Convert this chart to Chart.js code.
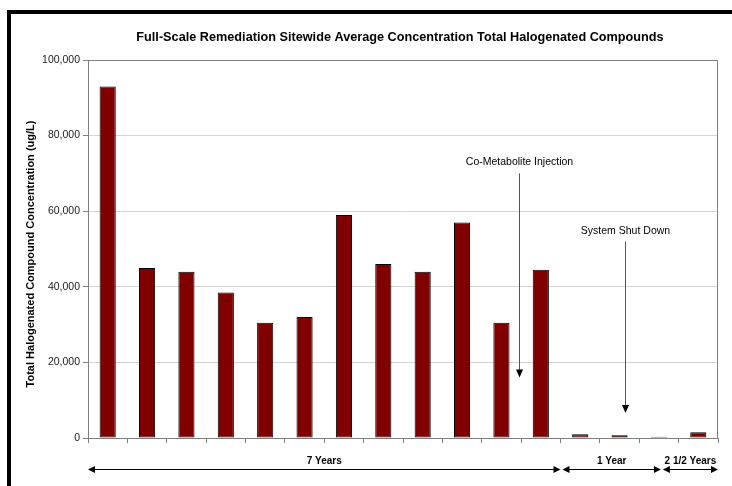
<!DOCTYPE html>
<html lang="en">
<head>
  <meta charset="UTF-8" />
  <title>Sitewide Average Concentration</title>
  <script src="https://cdn.jsdelivr.net/npm/chart.js"></script>
  <style>
    body { margin: 0; background: #fff; }
    #wrap { position: relative; width: 732px; height: 486px; }
  </style>
</head>
<body>
  <div id="wrap"><canvas id="chart" width="732" height="486"></canvas></div>
  <script>
    // sampling events (no labels shown on the axis)
    const events = ['1', '2', '3', '4', '5', '6', '7', '8', '9', '10', '11', '12', '13', '14', '15', '16'];
    // total halogenated compounds, ug/L
    const concentration = [93000, 45000, 44000, 38500, 30500, 32000, 59000, 46000, 44000, 57000, 30500, 44500, 1000, 700, 300, 1500];
    const yTicks = [0, 20000, 40000, 60000, 80000, 100000];

    const titleText = 'Full-Scale Remediation Sitewide Average Concentration Total Halogenated Compounds';
    const yTitleText = 'Total Halogenated Compound Concentration (ug/L)';

    // notes: label, x position (category index), label y, arrow from/to (data units)
    const noteLabels = ['Co-Metabolite Injection', 'System Shut Down'];
    const noteX = [10.45, 13.15];
    const noteTextY = [73000, 54800];
    const noteFrom = [70000, 52000];
    const noteTo = [16000, 6600];

    // periods along the bottom (category index range)
    const periodLabels = ['7 Years', '1 Year', '2 1/2 Years'];
    const periodStart = [-0.5, 11.55, 14.1];
    const periodEnd = [11.5, 14.05, 15.5];

    const FONT = "'Liberation Sans', Arial, sans-serif";

    function arrowHead(ctx, x, y, dir, len, half) {
      // dir: 'down', 'left', 'right'
      ctx.beginPath();
      if (dir === 'down') {
        ctx.moveTo(x, y); ctx.lineTo(x - half, y - len); ctx.lineTo(x + half, y - len);
      } else if (dir === 'left') {
        ctx.moveTo(x, y); ctx.lineTo(x + len, y - half); ctx.lineTo(x + len, y + half);
      } else {
        ctx.moveTo(x, y); ctx.lineTo(x - len, y - half); ctx.lineTo(x - len, y + half);
      }
      ctx.closePath();
      ctx.fill();
    }

    const extras = {
      id: 'extras',
      beforeDatasetsDraw(chart) {
        const { ctx, chartArea: a } = chart;
        ctx.save();
        ctx.strokeStyle = '#808080';
        ctx.lineWidth = 1;
        ctx.strokeRect(a.left + 0.5, a.top + 0.5, a.right - a.left - 1, a.bottom - a.top);
        ctx.restore();
      },
      afterDraw(chart) {
        const { ctx, chartArea: a } = chart;
        const xs = chart.scales.x, ys = chart.scales.y;
        ctx.save();

        // frame
        ctx.fillStyle = '#000';
        ctx.fillRect(7, 10, 732 - 7, 4);
        ctx.fillRect(7, 10, 4, 486 - 10);

        // title
        ctx.fillStyle = '#000';
        ctx.font = 'bold 12.7px ' + FONT;
        ctx.textAlign = 'center';
        ctx.textBaseline = 'middle';
        ctx.fillText(titleText, (a.left + a.right) / 2 - 3, 37);

        // y title
        ctx.save();
        ctx.translate(31, 254);
        ctx.rotate(-Math.PI / 2);
        ctx.font = 'bold 11px ' + FONT;
        ctx.fillText(yTitleText, 0, 0);
        ctx.restore();

        // notes with arrows
        ctx.font = '10.5px ' + FONT;
        noteLabels.forEach((t, i) => {
          const x = Math.round(xs.getPixelForValue(noteX[i])) + 0.5;
          ctx.fillStyle = '#000';
          ctx.fillText(t, x, ys.getPixelForValue(noteTextY[i]));
          const y0 = ys.getPixelForValue(noteFrom[i]);
          const y1 = ys.getPixelForValue(noteTo[i]);
          ctx.strokeStyle = '#555';
          ctx.lineWidth = 1;
          ctx.beginPath();
          ctx.moveTo(x, y0);
          ctx.lineTo(x, y1 - 6);
          ctx.stroke();
          arrowHead(ctx, x, y1, 'down', 8, 3.5);
        });

        // period arrows
        const ay = 469.5;
        ctx.strokeStyle = '#000';
        ctx.fillStyle = '#000';
        ctx.font = 'bold 10px ' + FONT;
        periodLabels.forEach((t, i) => {
          const x0 = xs.getPixelForValue(periodStart[i]);
          const x1 = xs.getPixelForValue(periodEnd[i]);
          ctx.beginPath();
          ctx.moveTo(x0 + 4, ay);
          ctx.lineTo(x1 - 4, ay);
          ctx.stroke();
          arrowHead(ctx, x0, ay, 'left', 7, 3.5);
          arrowHead(ctx, x1, ay, 'right', 7, 3.5);
          ctx.fillText(t, (x0 + x1) / 2, 461);
        });

        ctx.restore();
      }
    };

    new Chart(document.getElementById('chart'), {
      type: 'bar',
      data: {
        labels: events,
        datasets: [{
          data: concentration,
          backgroundColor: '#800000',
          borderColor: '#000',
          borderWidth: 1,
          borderSkipped: false,
          barPercentage: 0.41,
          categoryPercentage: 1
        }]
      },
      options: {
        responsive: false,
        animation: false,
        devicePixelRatio: 1,
        layout: { padding: { top: 60, right: 14, left: 0, bottom: 0 } },
        plugins: {
          legend: { display: false },
          tooltip: { enabled: false }
        },
        scales: {
          x: {
            ticks: { display: false },
            grid: {
              drawOnChartArea: false,
              drawTicks: true,
              tickLength: 5,
              tickColor: '#808080',
              offset: true
            },
            border: { color: '#808080' },
            afterFit(s) { s.height = 48; }
          },
          y: {
            min: 0,
            max: 100000,
            afterBuildTicks(s) { s.ticks = yTicks.map(v => ({ value: v })); },
            ticks: {
              color: '#222',
              padding: 3,
              font: { family: FONT, size: 10.5 },
              callback: v => v.toLocaleString('en-US')
            },
            grid: {
              color: '#d4d4d4',
              tickColor: '#808080',
              tickLength: 5
            },
            border: { color: '#808080' },
            afterFit(s) { s.width = 88; }
          }
        }
      },
      plugins: [extras]
    });
  </script>
</body>
</html>
